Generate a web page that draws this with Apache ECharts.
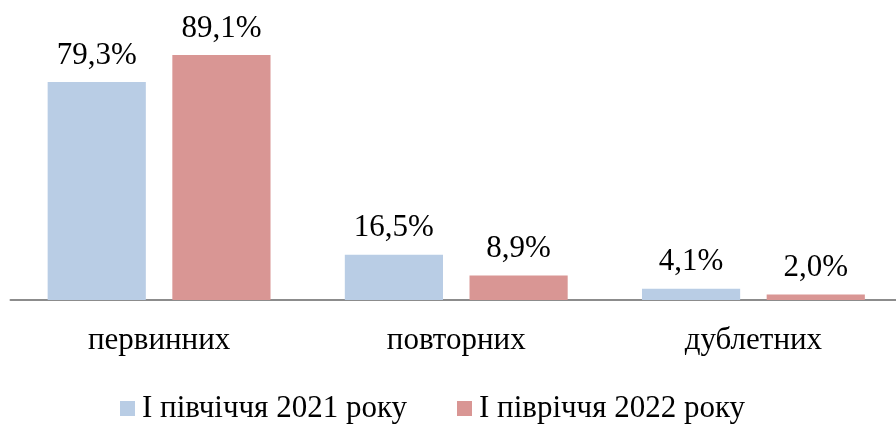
<!DOCTYPE html>
<html>
<head>
<meta charset="utf-8">
<script src="https://cdn.jsdelivr.net/npm/echarts@6/dist/echarts.min.js"></script>
<style>
html, body { margin: 0; padding: 0; background: #fff; overflow: hidden; }
#chart { width: 902px; height: 425px; }
</style>
</head>
<body>
<div id="chart"></div>
<script>
var categories = ['первинних', 'повторних', 'дублетних'];
var seriesNames = ['І півчіччя 2021 року', 'І півріччя 2022 року'];
var values2021 = [79.3, 16.5, 4.1];
var values2022 = [89.1, 8.9, 2.0];
var colors = ['#B9CDE5', '#D99694'];

var font = '"Liberation Serif", "Times New Roman", serif';

function fmt(p) {
    return p.value.toFixed(1).replace('.', ',') + '%';
}

var mychart = echarts.init(document.getElementById('chart'));
var seriesData = [values2021, values2022].map(function (vals, i) {
    return {
        name: seriesNames[i],
        type: 'bar',
        data: vals,
        barGap: '27%',
        barCategoryGap: '25%',
        itemStyle: { color: colors[i] },
        label: {
            show: true,
            position: 'top',
            distance: 11,
            formatter: fmt,
            color: '#000',
            fontFamily: font,
            fontSize: 31
        },
        animation: false
    };
});

// chart div is a bit wider than the window: the axis runs off the right edge
var option = {
    animation: false,
    grid: { left: 10.5, right: 0, top: 25, bottom: 125 },
    legend: {
        data: seriesNames,
        left: 120,
        top: 393,
        padding: 0,
        itemWidth: 15,
        itemHeight: 15,
        itemGap: 50,
        icon: 'rect',
        textStyle: {
            color: '#000',
            fontFamily: font,
            fontSize: 31,
            padding: [0, 0, 0, 2]
        }
    },
    xAxis: {
        type: 'category',
        data: categories,
        axisTick: { show: false },
        axisLine: { lineStyle: { color: '#8c8c8c', width: 2 } },
        axisLabel: {
            color: '#000',
            fontFamily: font,
            fontSize: 31,
            margin: 25
        }
    },
    yAxis: {
        type: 'value',
        min: 0,
        max: 100,
        show: false,
        splitLine: { show: false }
    },
    series: seriesData
};
mychart.setOption(option);
</script>
</body>
</html>
